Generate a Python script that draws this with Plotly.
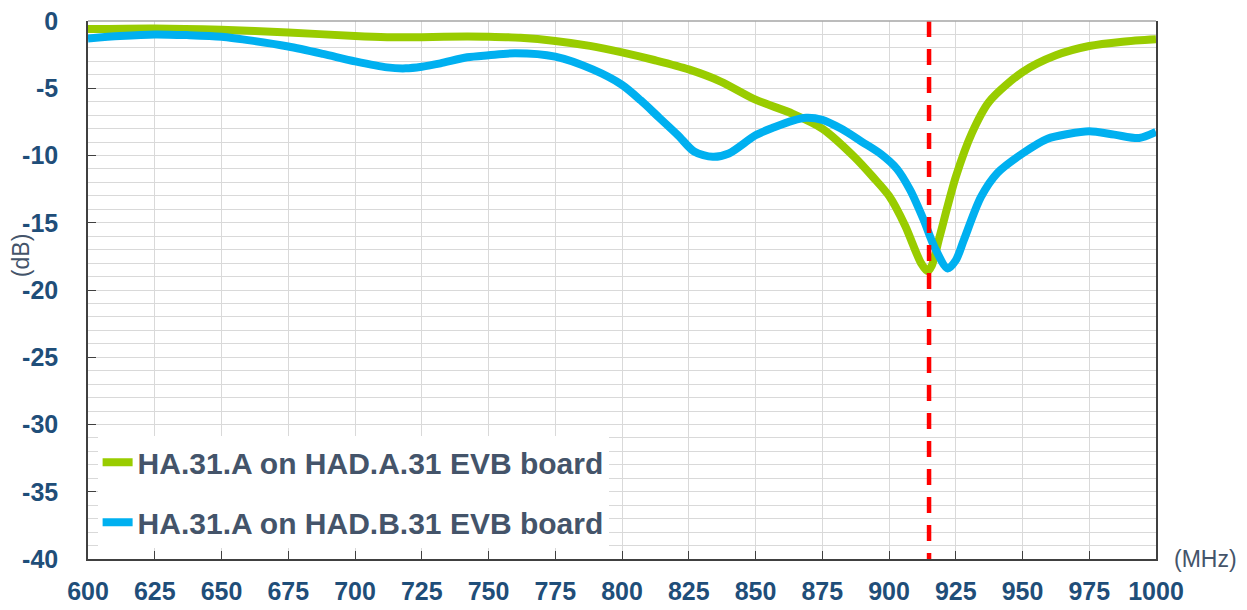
import plotly.graph_objects as go

# ---- data ----
freq_a = [600, 625, 650, 675, 700, 712, 725, 742, 750, 762, 775, 788, 800, 812, 825, 837,
          850, 864, 875, 887, 894, 900, 906, 912, 914.5, 916, 919, 925, 931, 937.5, 950,
          962.5, 975, 987.5, 1000]
db_a = [-0.6, -0.55, -0.65, -0.85, -1.12, -1.2, -1.2, -1.15, -1.17, -1.25, -1.48, -1.85,
        -2.33, -2.9, -3.6, -4.5, -5.85, -6.9, -8.0, -10.1, -11.6, -13.0, -15.2, -18.0,
        -18.6, -18.2, -16.0, -11.6, -8.35, -6.0, -3.8, -2.55, -1.86, -1.54, -1.36]

freq_b = [600, 612, 625, 637, 650, 662, 675, 688, 700, 712, 719, 725, 732, 742, 750, 760,
          775, 789, 800, 807, 814, 821, 827, 834, 840, 850, 857, 864, 869, 875, 882, 890,
          897, 903, 908, 913, 917, 922, 925, 928, 934.4, 940.6, 950, 959.4, 967, 975,
          984.4, 993.7, 1000]
db_b = [-1.3, -1.12, -1.0, -1.05, -1.17, -1.48, -1.9, -2.45, -3.0, -3.45, -3.52, -3.4,
        -3.15, -2.7, -2.55, -2.4, -2.65, -3.6, -4.75, -5.9, -7.2, -8.5, -9.7, -10.1, -9.85,
        -8.5, -7.9, -7.4, -7.2, -7.35, -8.0, -9.0, -9.9, -11.0, -12.6, -14.8, -16.8, -18.4,
        -17.8, -16.3, -13.1, -11.3, -9.85, -8.75, -8.4, -8.2, -8.45, -8.7, -8.25]

marker_freq = [915, 915]
marker_db = [0, -40.6]

series_names = ["HA.31.A on HAD.A.31 EVB board", "HA.31.A on HAD.B.31 EVB board"]
x_ticks = list(range(600, 1001, 25))
y_ticks = list(range(-40, 1, 5))

FONT = "Liberation Sans, Arial, sans-serif"
TICK_COLOR = "#1F4E79"
TEXT_COLOR = "#44546A"
GRID = "#D9D9D9"

fig = go.Figure()
fig.add_trace(go.Scatter(x=freq_a, y=db_a, mode="lines", name=series_names[0],
                         legendgroup="a",
                         line=dict(color="#99CC00", width=8, shape="spline", smoothing=0.8)))
fig.add_trace(go.Scatter(x=freq_b, y=db_b, mode="lines", name=series_names[1],
                         legendgroup="b",
                         line=dict(color="#00B0F0", width=8, shape="spline", smoothing=0.8)))
fig.add_trace(go.Scatter(x=marker_freq, y=marker_db, mode="lines", showlegend=False,
                         line=dict(color="#FF0000", width=4.5, dash="16px,12px"),
                         hoverinfo="skip", cliponaxis=False))

# The page body adds an 8 px margin, so the figure is sized/margined to compensate.
fig.update_layout(
    width=1239, height=602,
    margin=dict(l=80, r=91, t=13, b=51),
    paper_bgcolor="white", plot_bgcolor="white",
    font=dict(family=FONT, color=TEXT_COLOR),
    legend=dict(x=0.009, y=0.02, xanchor="left", yanchor="bottom",
                bgcolor="white", borderwidth=0, tracegroupgap=18,
                font=dict(family=FONT, size=30, color=TEXT_COLOR, weight="bold"),
                itemwidth=30),
    xaxis=dict(range=[600, 1000], tickvals=x_ticks, ticktext=[str(v) for v in x_ticks],
               showgrid=True, gridcolor=GRID, gridwidth=1, automargin=False,
               showline=True, linecolor="#404040", linewidth=1.5, mirror=False,
               ticks="inside", ticklen=8, tickcolor="#404040", ticklabeloverflow="allow",
               tickfont=dict(family=FONT, size=25, color=TICK_COLOR, weight="bold"),
               ticklabelstandoff=9, zeroline=False),
    yaxis=dict(range=[-40, 0], tickvals=y_ticks, ticktext=[str(v) for v in y_ticks],
               showgrid=True, gridcolor=GRID, gridwidth=1, automargin=False,
               minor=dict(dtick=1, tick0=0, showgrid=True, gridcolor=GRID, gridwidth=1),
               showline=True, linecolor="#404040", linewidth=1.5, mirror=True,
               ticks="inside", ticklen=8, tickcolor="#404040", ticklabeloverflow="allow",
               tickfont=dict(family=FONT, size=25, color=TICK_COLOR, weight="bold"),
               ticklabelstandoff=23, zeroline=False),
    shapes=[dict(type="line", xref="paper", yref="paper", x0=0, x1=1, y0=1, y1=1,
                 line=dict(color="#A6A6A6", width=1.5))],
    annotations=[
        dict(text="(dB)", xref="paper", yref="paper", x=-0.0627, y=0.563, textangle=-90,
             showarrow=False, xanchor="center", yanchor="middle",
             font=dict(family=FONT, size=23, color=TEXT_COLOR)),
        dict(text="(MHz)", xref="paper", yref="paper", x=1.015, y=0.0,
             showarrow=False, xanchor="left", yanchor="middle",
             font=dict(family=FONT, size=23, color=TEXT_COLOR)),
    ],
)

fig.write_html("out.html")
